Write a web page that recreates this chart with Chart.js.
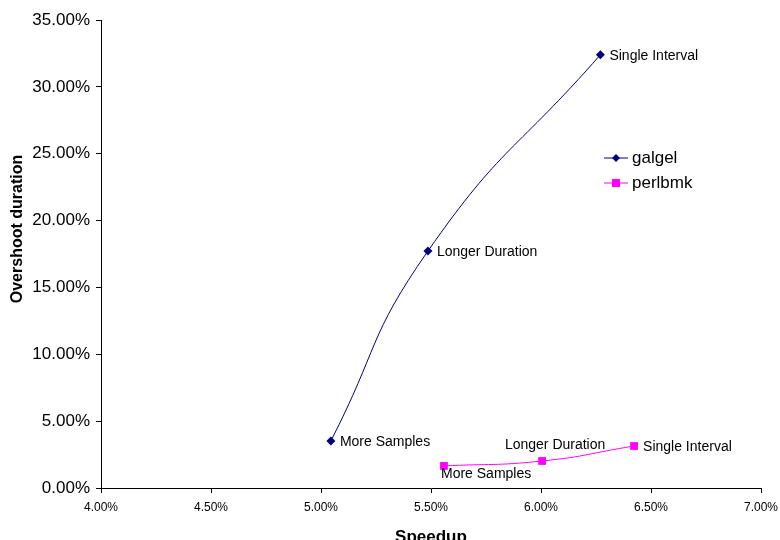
<!DOCTYPE html>
<html>
<head>
<meta charset="utf-8">
<script src="https://cdn.jsdelivr.net/npm/chart.js@4.4.0/dist/chart.umd.min.js"></script>
<style>
  html, body { margin: 0; padding: 0; background: #fff; }
  #wrap { width: 780px; height: 540px; }
</style>
</head>
<body>
<div id="wrap"><canvas id="myChart" width="780" height="540"></canvas></div>
<script>
// speedup (%) and overshoot duration (%)
const galgelX = [5.045, 5.486, 6.27];
const galgelY = [3.52, 17.72, 32.4];
const galgelLabels = ['More Samples', 'Longer Duration', 'Single Interval'];

const perlbmkX = [5.559, 6.005, 6.423];
const perlbmkY = [1.65, 2.02, 3.14];
const perlbmkLabels = ['More Samples', 'Longer Duration', 'Single Interval'];

const xTicks = [4.0, 4.5, 5.0, 5.5, 6.0, 6.5, 7.0];
const yTicks = [0, 5, 10, 15, 20, 25, 30, 35];
const yTitle = 'Overshoot duration';

function toPoints(xs, ys) {
    return xs.map((x, i) => ({ x: x, y: ys[i] }));
}

// where each point label sits: r = right, a = above, b = below
const labelPlace = [['r', 'r', 'r'], ['b', 'a', 'r']];

const pointLabels = {
    id: 'pointLabels',
    afterDatasetsDraw(chart) {
        const ctx = chart.ctx;
        const labels = [galgelLabels, perlbmkLabels];
        ctx.save();
        ctx.font = '14px "Liberation Sans", Arial, sans-serif';
        ctx.fillStyle = '#000';
        chart.data.datasets.forEach((ds, di) => {
            chart.getDatasetMeta(di).data.forEach((pt, i) => {
                const p = labelPlace[di][i];
                const txt = labels[di][i];
                if (p === 'r') {
                    ctx.textAlign = 'left'; ctx.textBaseline = 'middle';
                    ctx.fillText(txt, pt.x + 9, pt.y + 1);
                } else if (p === 'a') {
                    ctx.textAlign = 'center'; ctx.textBaseline = 'middle';
                    ctx.fillText(txt, pt.x + 13, pt.y - 16);
                } else {
                    ctx.textAlign = 'left'; ctx.textBaseline = 'middle';
                    ctx.fillText(txt, pt.x - 3, pt.y + 8);
                }
            });
        });
        ctx.restore();
    }
};

// y title sits a bit above the middle in the original
const yTitlePlugin = {
    id: 'yTitlePlugin',
    afterDraw(chart) {
        const ctx = chart.ctx;
        ctx.save();
        ctx.translate(18, 229);
        ctx.rotate(-Math.PI / 2);
        ctx.font = 'bold 16px "Liberation Sans", Arial, sans-serif';
        ctx.fillStyle = '#000';
        ctx.textAlign = 'center';
        ctx.textBaseline = 'middle';
        ctx.fillText(yTitle, 0, 0);
        ctx.restore();
    }
};

// small legend inside the plot, like the original
const boxLegend = {
    id: 'boxLegend',
    afterDraw(chart) {
        const ctx = chart.ctx;
        const x0 = 604, y0 = 158, gap = 25;
        ctx.save();
        ctx.font = '17px "Liberation Sans", Arial, sans-serif';
        ctx.textBaseline = 'middle';
        ctx.textAlign = 'left';
        chart.data.datasets.forEach((ds, i) => {
            const y = y0 + i * gap;
            ctx.strokeStyle = ds.borderColor;
            ctx.lineWidth = 1;
            ctx.beginPath();
            ctx.moveTo(x0, y); ctx.lineTo(x0 + 24, y);
            ctx.stroke();
            ctx.fillStyle = ds.backgroundColor;
            ctx.beginPath();
            if (ds.pointStyle === 'rectRot') {
                ctx.moveTo(x0 + 12, y - 4); ctx.lineTo(x0 + 16, y);
                ctx.lineTo(x0 + 12, y + 4); ctx.lineTo(x0 + 8, y);
                ctx.closePath();
            } else {
                ctx.rect(x0 + 8, y - 4, 8, 8);
            }
            ctx.fill();
            ctx.fillStyle = '#000';
            ctx.fillText(ds.label, x0 + 28, y);
        });
        ctx.restore();
    }
};

document.addEventListener("DOMContentLoaded", function () {
    const ctx = document.getElementById('myChart').getContext('2d');

    new Chart(ctx, {
        type: 'line',
        data: {
            datasets: [{
                label: 'galgel',
                data: toPoints(galgelX, galgelY),
                borderColor: '#000080',
                backgroundColor: '#000080',
                borderWidth: 1,
                pointStyle: 'rectRot',
                pointRadius: 4.5,
                pointBorderWidth: 0,
                tension: 0.5
            }, {
                label: 'perlbmk',
                data: toPoints(perlbmkX, perlbmkY),
                borderColor: '#FF00FF',
                backgroundColor: '#FF00FF',
                borderWidth: 1,
                pointStyle: 'rect',
                pointRadius: 5.5,
                pointBorderWidth: 0,
                tension: 0.5
            }]
        },
        options: {
            responsive: false,
            animation: false,
            layout: { padding: { top: 20, right: 19, left: 0, bottom: 0 } },
            scales: {
                x: {
                    type: 'linear',
                    min: 4, max: 7,
                    afterBuildTicks: (s) => { s.ticks = xTicks.map(v => ({ value: v })); },
                    afterFit: (s) => { s.height = 52; s.paddingLeft = 0; s.paddingRight = 0; },
                    grid: { drawOnChartArea: false, color: '#000', tickLength: 5 },
                    border: { color: '#000', width: 1 },
                    ticks: {
                        color: '#000',
                        padding: 7,
                        maxRotation: 0,
                        font: { size: 12, family: '"Liberation Sans", Arial' },
                        callback: v => v.toFixed(2) + '%'
                    },
                    title: {
                        display: true,
                        text: 'Speedup',
                        color: '#000',
                        padding: { top: 0, bottom: -8 },
                        font: { size: 17, weight: 'bold', family: '"Liberation Sans", Arial' }
                    }
                },
                y: {
                    type: 'linear',
                    min: 0, max: 35,
                    afterBuildTicks: (s) => { s.ticks = yTicks.map(v => ({ value: v })); },
                    afterFit: (s) => { s.width = 101; s.paddingTop = 0; s.paddingBottom = 0; },
                    grid: { drawOnChartArea: false, color: '#000', tickLength: 5 },
                    border: { color: '#000', width: 1 },
                    ticks: {
                        color: '#000',
                        padding: 6,
                        font: { size: 17, family: '"Liberation Sans", Arial' },
                        callback: v => v.toFixed(2) + '%'
                    }
                }
            },
            plugins: {
                legend: { display: false },
                tooltip: { enabled: false }
            }
        },
        plugins: [pointLabels, boxLegend, yTitlePlugin]
    });
});
</script>
</body>
</html>
